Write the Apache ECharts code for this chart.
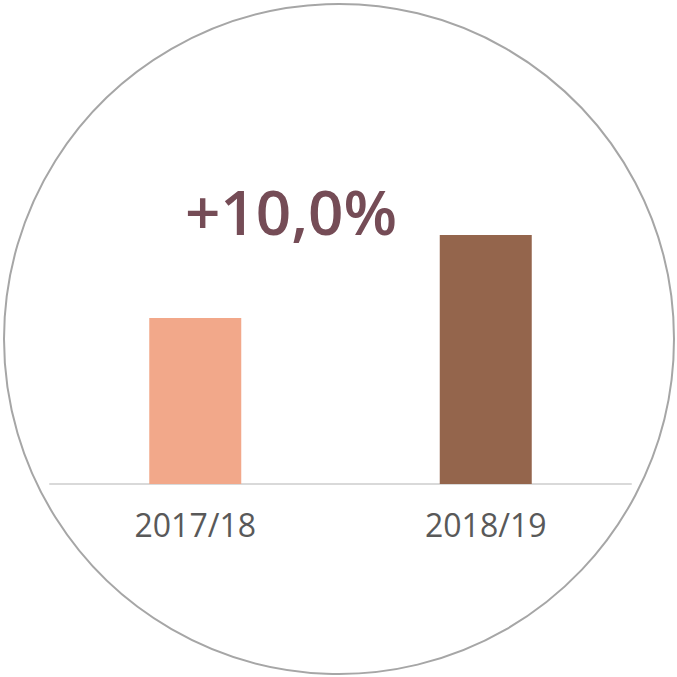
<!DOCTYPE html>
<html>
<head>
<meta charset="utf-8">
<script src="https://cdn.jsdelivr.net/npm/echarts@6/dist/echarts.min.js"></script>
<style>
  html, body { margin: 0; padding: 0; background: #fff; }
  #chart { width: 677px; height: 677px; }
</style>
</head>
<body>
<div id="chart"></div>
<script>
var categories = ['2017/18', '2018/19'];
var values = [100, 110];
var barColors = ['#f2a88a', '#94654c'];
var changeLabel = '+10,0%';

var chart = echarts.init(document.getElementById('chart'), null, { renderer: 'svg' });
chart.setOption({
  animation: false,
  graphic: [
    {
      type: 'circle',
      shape: { cx: 339, cy: 339, r: 335 },
      style: { fill: 'none', stroke: '#a6a6a6', lineWidth: 2 },
      z: 0
    },
    {
      type: 'text',
      x: 291,
      y: 211,
      style: {
        text: changeLabel,
        fill: '#754c56',
        font: '600 62px "Open Sans", sans-serif',
        align: 'center',
        verticalAlign: 'middle'
      },
      z: 10
    }
  ],
  grid: { left: 50, right: 46, top: 152, bottom: 193 },
  xAxis: {
    type: 'category',
    data: categories,
    axisLine: { lineStyle: { color: '#d9d9d9', width: 2 } },
    axisTick: { show: false },
    axisLabel: { color: '#595959', fontSize: 32, margin: 24, fontFamily: '"Open Sans", sans-serif' }
  },
  yAxis: {
    type: 'value',
    min: 80,
    max: 120,
    show: false
  },
  series: [{
    type: 'bar',
    barWidth: 92,
    data: values.map(function (v, i) {
      return { value: v, itemStyle: { color: barColors[i] } };
    })
  }]
});
</script>
</body>
</html>
